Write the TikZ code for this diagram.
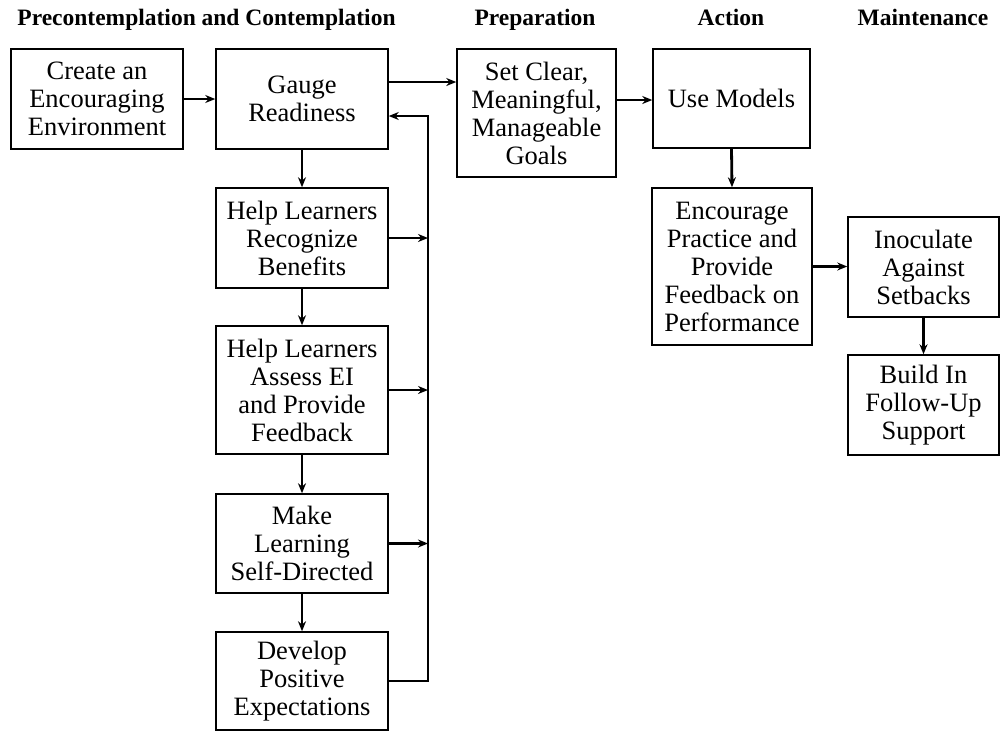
\documentclass[tikz,border=0pt]{standalone}
\usepackage{fontspec}
\setmainfont{Liberation Serif}
\usetikzlibrary{arrows.meta}
\begin{document}
\begin{tikzpicture}[x=1pt,y=-1pt,
  box/.style={draw=black,line width=1.5pt,rectangle,inner sep=0pt,align=center,
    font=\fontsize{26.5}{28}\selectfont},
  hdr/.style={inner sep=0pt,anchor=base,font=\fontsize{23.5}{26}\selectfont\bfseries},
  arr/.style={line width=2.8pt,-{Stealth[length=10pt,width=8pt]}},
  ln/.style={line width=2.8pt}]
\useasboundingbox (0,0) rectangle (1001,732);
% headers
\node[hdr] (h1) at (206.5,25) {Precontemplation and Contemplation};
\node[hdr] (h2) at (535,25) {Preparation};
\node[hdr] (h3) at (731,25) {Action};
\node[hdr] (h4) at (923,25) {Maintenance};
% boxes
\node[box,minimum width=172pt,minimum height=100pt] (create) at (97,99) {Create an\\Encouraging\\Environment};
\node[box,minimum width=172pt,minimum height=100pt] (gauge) at (302,99) {Gauge\\Readiness};
\node[box,minimum width=159pt,minimum height=128pt] (goals) at (536.5,113) {Set Clear,\\Meaningful,\\Manageable\\Goals};
\node[box,minimum width=157pt,minimum height=99pt] (models) at (731.5,98.5) {Use Models};
\node[box,minimum width=172pt,minimum height=100pt] (recog) at (302,238) {Help Learners\\Recognize\\Benefits};
\node[box,minimum width=172pt,minimum height=128pt] (assess) at (302,390) {Help Learners\\Assess EI\\and Provide\\Feedback};
\node[box,minimum width=172pt,minimum height=99pt] (selfdir) at (302,543.5) {Make\\Learning\\Self-Directed};
\node[box,minimum width=172pt,minimum height=98pt] (develop) at (302,681) {Develop\\Positive\\Expectations};
\node[box,minimum width=160pt,minimum height=157pt] (practice) at (732,266.5) {Encourage\\Practice and\\Provide\\Feedback on\\Performance};
\node[box,minimum width=151pt,minimum height=100pt] (inoc) at (923.5,267) {Inoculate\\Against\\Setbacks};
\node[box,minimum width=151pt,minimum height=100pt] (build) at (923.5,405) {Build In\\Follow-Up\\Support};
% helper coordinates
\coordinate (g1) at ([yshift=17pt]gauge.east);
\coordinate (s1) at ([yshift=13pt]goals.east);
\coordinate (bus) at (428,116);
% connectors
\draw[arr] (create.east) -- (create.east -| gauge.west);
\draw[arr] (g1) -- (g1 -| goals.west);
\draw[arr] (s1) -- (s1 -| models.west);
\draw[arr] (models.south) -- (practice.north);
\draw[arr] (practice.east) -- (practice.east -| inoc.west);
\draw[arr] (inoc.south) -- (build.north);
\draw[arr] (gauge.south) -- (recog.north);
\draw[arr] (recog.south) -- (assess.north);
\draw[arr] (assess.south) -- (selfdir.north);
\draw[arr] (selfdir.south) -- (develop.north);
\draw[arr] (recog.east) -- (recog.east -| bus);
\draw[arr] (assess.east) -- (assess.east -| bus);
\draw[arr] (selfdir.east) -- (selfdir.east -| bus);
\draw[arr] (develop.east) -| (bus) -- (bus -| gauge.east);
\end{tikzpicture}
\end{document}
